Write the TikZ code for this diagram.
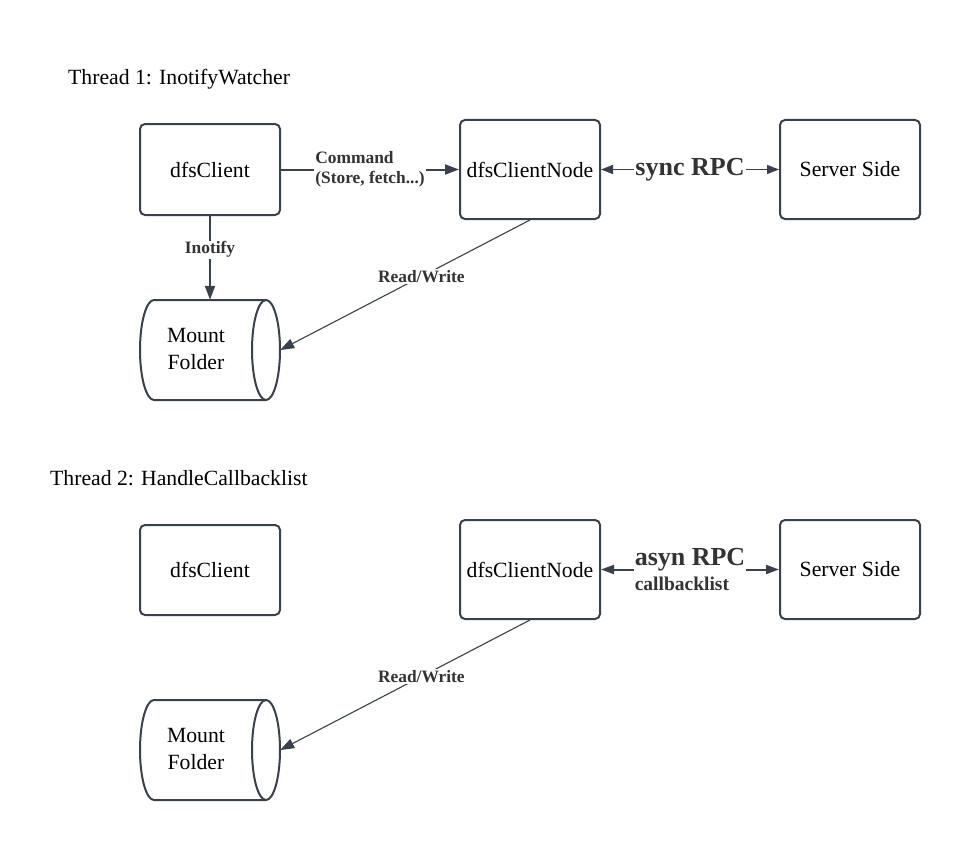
\documentclass[tikz,border=0pt]{standalone}
\usepackage{fontspec}
\setmainfont{Liberation Serif}
\usetikzlibrary{arrows.meta}
\definecolor{ln}{HTML}{3A414A}
\definecolor{tx}{HTML}{333333}
\begin{document}
\begin{tikzpicture}[x=1pt,y=-1pt,
  box/.style={draw=ln, line width=2pt, rounded corners=5pt, minimum width=140pt,
    inner sep=0pt, text=black, font=\fontsize{21.7}{26}\selectfont},
  plain/.style={inner sep=0pt, text=black, font=\fontsize{21.7}{27}\selectfont, align=center},
  cyl/.style={draw=ln, line width=2pt},
  conn/.style={draw=ln, line width=2pt, -{Triangle[length=14pt,width=10pt]}},
  thinconn/.style={draw=ln, line width=1.1pt, -{Triangle[length=14pt,width=10pt]}},
  rpc/.style={draw=ln, line width=1.4pt, {Triangle[length=12pt,width=9pt]}-{Triangle[length=12pt,width=9pt]}},
  rpcb/.style={draw=ln, line width=2pt, {Triangle[length=13pt,width=9pt]}-{Triangle[length=13pt,width=9pt]}},
  lbl/.style={fill=white, inner sep=1pt, text=tx, align=left, font=\bfseries\fontsize{17.4}{20.5}\selectfont},
  biglbl/.style={fill=white, inner sep=1pt, text=tx, font=\bfseries\fontsize{26}{28}\selectfont},
  title/.style={inner sep=0pt, anchor=base west, text=black, font=\fontsize{21.7}{26}\selectfont}
]
\useasboundingbox (0,0) rectangle (960,840);

% ---------- Thread 1 ----------
\node[title] (t1) at (68,85) {Thread 1: InotifyWatcher};
\node[box, minimum height=91pt] (c1) at (210,169.5) {dfsClient};
\node[box, minimum height=99pt] (n1) at (530,169.5) {dfsClientNode};
\node[box, minimum height=99pt] (s1) at (850,169.5) {Server Side};

\node[minimum width=140pt, minimum height=100pt, inner sep=0pt] (mf1) at (210,350) {};
\draw[cyl] (266,300) -- (154,300) arc[start angle=270, end angle=90, x radius=14, y radius=50] -- (266,400);
\draw[cyl] (266,350) ellipse[x radius=14, y radius=50];
\node[plain] (mf1t) at (196,349) {Mount\\Folder};

\draw[conn] (c1) -- node[lbl, pos=0.5] {Command\\(Store, fetch...)} (n1);
\draw[conn] (c1) -- node[lbl, pos=0.4] {Inotify} (mf1.north);
\draw[thinconn] (n1.south) -- node[lbl, pos=0.435] {Read/Write} (mf1.east);
\draw[rpc] (n1) -- node[biglbl] {sync RPC} (s1);

% ---------- Thread 2 ----------
\node[title] (t2) at (50,485) {Thread 2: HandleCallbacklist};
\node[box, minimum height=90pt] (c2) at (210,570) {dfsClient};
\node[box, minimum height=99pt] (n2) at (530,569.5) {dfsClientNode};
\node[box, minimum height=99pt] (s2) at (850,569.5) {Server Side};

\node[minimum width=140pt, minimum height=100pt, inner sep=0pt] (mf2) at (210,750) {};
\draw[cyl] (266,700) -- (154,700) arc[start angle=270, end angle=90, x radius=14, y radius=50] -- (266,800);
\draw[cyl] (266,750) ellipse[x radius=14, y radius=50];
\node[plain] (mf2t) at (196,749) {Mount\\Folder};

\draw[thinconn] (n2.south) -- node[lbl, pos=0.435] {Read/Write} (mf2.east);
\draw[rpcb] (n2) -- node[lbl, font=\bfseries\fontsize{19.5}{25}\selectfont]
  {{\fontsize{26}{28}\selectfont asyn RPC}\\callbacklist} (s2);
\end{tikzpicture}
\end{document}
